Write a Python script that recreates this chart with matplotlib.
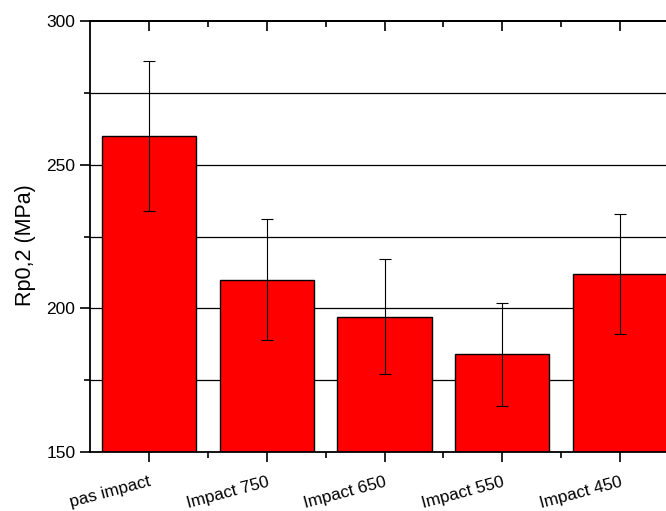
import matplotlib
matplotlib.use("Agg")
import matplotlib.pyplot as plt
from matplotlib.ticker import MultipleLocator, FixedLocator

categories = ["pas impact", "Impact 750", "Impact 650", "Impact 550", "Impact 450"]
values = [260, 210, 197, 184, 212]
errors = [26, 21, 20, 18, 21]
yticks = [150, 200, 250, 300]

plt.rcParams['font.family'] = ['Liberation Sans', 'DejaVu Sans']

fig = plt.figure(figsize=(6.66, 5.11), dpi=100)
ax = fig.add_axes([90/666, 1-452/511, (679-90)/666, (452-21)/511])

x = list(range(len(categories)))
ax.bar(x, values, width=0.8, color='#ff0000', edgecolor='black', linewidth=1.0, zorder=2)
ax.errorbar(x, values, yerr=errors, fmt='none', ecolor='black', elinewidth=0.8,
            capsize=4.5, capthick=0.8, zorder=3)

ax.set_xlim(-0.5, 4.5)
ax.set_ylim(150, 300)
ax.set_yticks(yticks)
ax.yaxis.set_minor_locator(MultipleLocator(25))
ax.set_xticks(x)
ax.xaxis.set_minor_locator(FixedLocator([i + 0.5 for i in x]))
ax.set_xticklabels(categories, rotation=15, ha='right', rotation_mode='anchor')

for yv in [175, 200, 225, 250, 275]:
    ax.axhline(yv, color='black', linewidth=0.9, zorder=1)

ax.tick_params(axis='both', which='major', length=7, width=1.2, labelsize=12.5)
ax.tick_params(axis='both', which='minor', length=4, width=1.2)
ax.tick_params(axis='x', which='major', pad=9, labelsize=12.3)
ax.tick_params(axis='y', which='both', left=True, right=True)
for s in ax.spines.values():
    s.set_linewidth(1.3)

top = ax.secondary_xaxis('top')
top.set_xticks(x)
top.xaxis.set_minor_locator(FixedLocator([i + 0.5 for i in x]))
top.tick_params(axis='x', which='major', direction='in', length=7, width=1.2, labeltop=False)
top.tick_params(axis='x', which='minor', direction='in', length=4, width=1.2)
top.set_xticklabels([])
top.spines['top'].set_linewidth(1.3)

ax.set_ylabel("Rp0,2 (MPa)", fontsize=15.5)
ax.yaxis.set_label_coords(-54/589, 0.48)

fig.savefig("out.png", dpi=100)
